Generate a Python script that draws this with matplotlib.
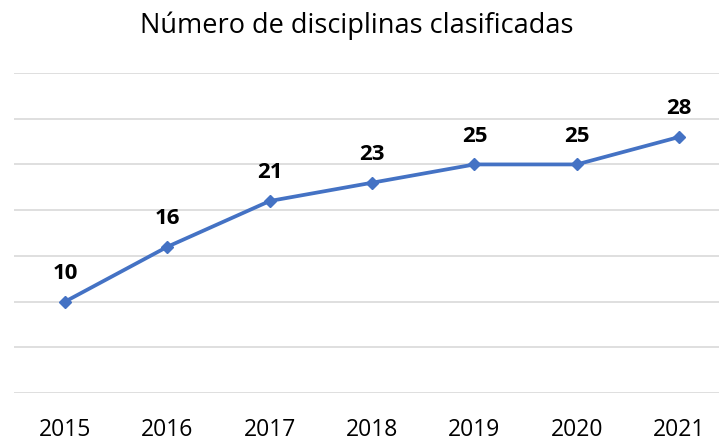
import matplotlib
matplotlib.use("Agg")
import matplotlib.pyplot as plt

years = ["2015", "2016", "2017", "2018", "2019", "2020", "2021"]
values = [10, 16, 21, 23, 25, 25, 28]
title = "Número de disciplinas clasificadas"

plt.rcParams['font.family'] = ['Open Sans', 'DejaVu Sans']

fig = plt.figure(figsize=(7.19, 4.41), dpi=100)
ax = fig.add_axes([14/719, (441-393)/441, (719-14)/719, (393-73)/441])
x = list(range(len(years)))
ax.plot(x, values, color="#4472C4", lw=2.7, marker="D", ms=6.5, zorder=3)
for xi, v in zip(x, values):
    ax.annotate(str(v), (xi, v), xytext=(0, 16.5), textcoords="offset points",
                ha="center", va="baseline", fontsize=16, fontweight="bold", color="black")
ax.set_xlim(-0.5, 6.39)
ax.set_ylim(0, 35)
ax.set_yticks(range(0, 36, 5))
ax.yaxis.grid(True, color="#D9D9D9", lw=1.2)
ax.set_axisbelow(True)
ax.set_yticklabels([])
ax.tick_params(axis="y", length=0)
ax.tick_params(axis="x", length=0, labelsize=16.5, pad=18, colors="black")
ax.set_xticks(x)
ax.set_xticklabels(years)
for s in ax.spines.values():
    s.set_visible(False)
fig.text(357/719, 1 - 33/441, title, ha="center", va="baseline", fontsize=19.5)
fig.savefig("out.png", dpi=100)
